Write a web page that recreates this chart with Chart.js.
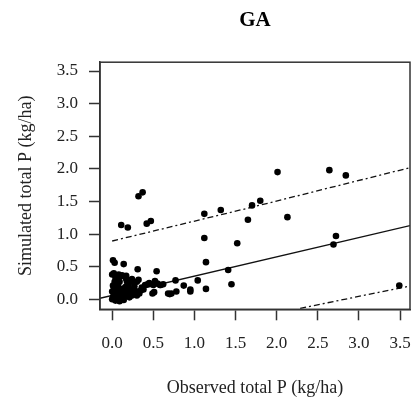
<!DOCTYPE html>
<html>
<head>
<meta charset="utf-8">
<script src="https://cdn.jsdelivr.net/npm/chart.js@4.4.1/dist/chart.umd.min.js"></script>
<style>
html,body{margin:0;padding:0;background:#fff;}
#wrap{width:414px;height:401px;position:relative;}
</style>
</head>
<body>
<div id="wrap"><canvas id="c" width="414" height="401"></canvas></div>
<script>
const chartTitle = "GA";
const xTitle = "Observed total P (kg/ha)";
const yTitle = "Simulated total P (kg/ha)";
const tickValues = [0, 0.5, 1.0, 1.5, 2.0, 2.5, 3.0, 3.5];

const observedP = [
  0.32,0.37,0.11,0.19,0.42,0.47,1.12,1.32,1.65,1.12,1.52,2.01,2.64,2.84,1.70,1.80,2.13,2.72,2.69,3.49,
  1.14,1.41,1.45,1.14,1.04,0.95,0.95,0.87,0.78,0.72,0.68,0.70,0.77,0.62,0.58,0.54,0.31,0.14,0.01,0.03,
  0.00,0.02,0.05,0.08,0.10,0.04,0.12,0.17,0.24,0.17,0.32,0.03,0.09,0.18,0.25,0.30,0.43,0.45,0.52,0.50,0.40,0.36,0.51,0.49,0.59,0.55,
  0.00,0.01,0.02,0.00,0.03,0.05,0.01,0.07,0.08,0.06,0.10,0.11,0.12,0.13,0.15,0.16,0.18,0.19,0.21,0.22,0.24,0.26,0.28,0.30,0.33,0.04,0.09,0.14,0.02,0.07,0.35,0.27,0.20,0.38
];
const simulatedP = [
  1.58,1.64,1.14,1.10,1.16,1.20,1.31,1.37,1.22,0.94,0.86,1.95,1.98,1.90,1.44,1.51,1.26,0.97,0.84,0.21,
  0.57,0.45,0.23,0.16,0.29,0.15,0.12,0.21,0.12,0.09,0.09,0.08,0.29,0.23,0.22,0.43,0.46,0.54,0.60,0.56,
  0.38,0.40,0.36,0.38,0.35,0.33,0.37,0.36,0.31,0.31,0.30,0.27,0.27,0.27,0.27,0.27,0.23,0.25,0.28,0.22,0.22,0.18,0.11,0.09,0.22,0.24,
  0.00,0.03,0.08,0.12,0.15,0.20,0.21,0.05,0.10,0.13,0.02,0.07,0.16,0.11,0.04,0.19,0.08,0.12,0.03,0.15,0.06,0.10,0.13,0.06,0.09,-0.02,-0.03,-0.01,0.18,0.22,0.14,0.20,0.22,0.15
];

const fitX = [-0.148, 3.62];
const fitY = [0.016, 1.131];
const upperX = [0.0, 1.66, 3.62];
const upperY = [0.894, 1.40, 2.018];
const lowerX = [2.285, 3.62];
const lowerY = [-0.138, 0.204];

const xMin = -0.148, xMax = 3.62, yMin = -0.153, yMax = 3.635;

const toPts = (xs, ys) => xs.map((x, i) => ({x: x, y: ys[i]}));

const boxPlugin = {
  id: 'box',
  afterDatasetsDraw(chart) {
    const {ctx, chartArea: a} = chart;
    ctx.save();
    ctx.strokeStyle = '#333';
    ctx.lineWidth = 1.5;
    ctx.strokeRect(a.left, a.top, a.right - a.left, a.bottom - a.top);
    ctx.restore();
  }
};

const serif = "'Liberation Serif', 'Times New Roman', serif";

function zeroPad(s) {
  s.paddingLeft = 0; s.paddingRight = 0; s.paddingTop = 0; s.paddingBottom = 0;
}

new Chart(document.getElementById('c'), {
  type: 'scatter',
  data: {
    datasets: [
      {
        data: toPts(observedP, simulatedP),
        backgroundColor: '#000',
        borderColor: '#000',
        pointRadius: 3.3,
        pointBorderWidth: 0,
        showLine: false
      },
      {
        data: toPts(fitX, fitY),
        showLine: true, borderColor: '#111', borderWidth: 1.3, pointRadius: 0, fill: false
      },
      {
        data: toPts(upperX, upperY),
        showLine: true, borderColor: '#111', borderWidth: 1.3, borderDash: [6, 3, 2, 3], pointRadius: 0, fill: false
      },
      {
        data: toPts(lowerX, lowerY),
        showLine: true, borderColor: '#111', borderWidth: 1.3, borderDash: [6, 3, 2, 3], pointRadius: 0, fill: false
      }
    ]
  },
  options: {
    responsive: false,
    animation: false,
    layout: {padding: {top: 0, right: 1.7, bottom: 0, left: 0}},
    plugins: {
      legend: {display: false},
      tooltip: {enabled: false},
      title: {
        display: true,
        text: chartTitle,
        fullSize: false,
        color: '#000',
        font: {family: serif, size: 21, weight: 'bold', lineHeight: 1.2},
        padding: {top: 8, bottom: 29}
      }
    },
    scales: {
      x: {
        type: 'linear',
        min: xMin, max: xMax,
        afterBuildTicks: s => { s.ticks = tickValues.map(v => ({value: v})); },
        afterFit: s => { s.height = 91.7; zeroPad(s); },
        grid: {drawOnChartArea: false, drawTicks: true, tickLength: 11, tickColor: '#333', tickWidth: 1.5},
        border: {display: true, color: '#333', width: 1.5},
        ticks: {
          color: '#222', padding: 13, maxRotation: 0, autoSkip: false,
          font: {family: serif, size: 17},
          callback: v => Number(v).toFixed(1)
        },
        title: {
          display: true, text: xTitle, color: '#222',
          font: {family: serif, size: 18, lineHeight: 1.2},
          padding: {top: 0, bottom: 2}
        }
      },
      y: {
        type: 'linear',
        min: yMin, max: yMax,
        afterBuildTicks: s => { s.ticks = tickValues.map(v => ({value: v})); },
        afterFit: s => { s.width = 100; zeroPad(s); },
        grid: {drawOnChartArea: false, drawTicks: true, tickLength: 11, tickColor: '#333', tickWidth: 1.5},
        border: {display: true, color: '#333', width: 1.5},
        ticks: {
          color: '#222', padding: 11, autoSkip: false,
          font: {family: serif, size: 17},
          callback: v => Number(v).toFixed(1)
        },
        title: {
          display: true, text: yTitle, color: '#222',
          font: {family: serif, size: 18, lineHeight: 1.2},
          padding: {top: 15, bottom: 0}
        }
      }
    }
  },
  plugins: [boxPlugin]
});
</script>
</body>
</html>
